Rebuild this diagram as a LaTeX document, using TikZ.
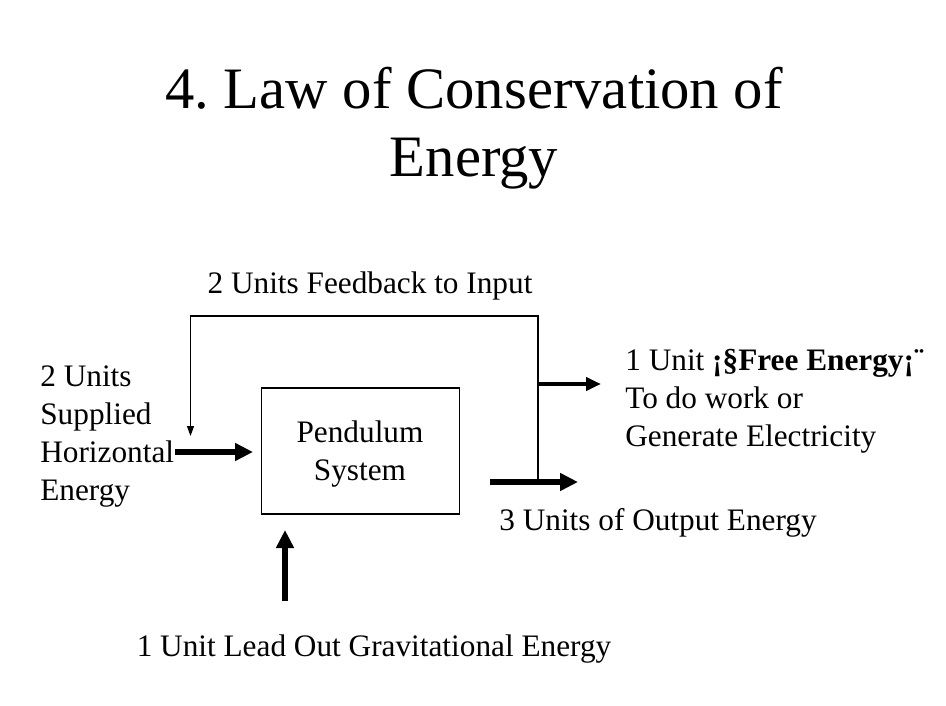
\documentclass[tikz,border=0pt]{standalone}
\usepackage{fontspec}
\setmainfont{Liberation Serif}
\usetikzlibrary{arrows.meta}
\frenchspacing

\begin{document}
\begin{tikzpicture}[x=0.02cm,y=-0.02cm,
       txt/.style={font=\fontsize{17.8}{21.6}\selectfont,inner sep=0pt,align=left},
       ttl/.style={font=\fontsize{33.4}{38.7}\selectfont,inner sep=0pt,align=center},
       fat/.style={-{Triangle[length=0.36cm,width=0.34cm]},line width=3.4pt},
       mid/.style={-{Triangle[length=0.3cm,width=0.26cm]},line width=2.4pt},
       thin/.style={-{Triangle[length=0.2cm,width=0.14cm]},line width=0.6pt}]
      \useasboundingbox (0,0) rectangle (946,706);
      % title
      \node[ttl,anchor=base] (T) at (474,176) {4. Law of Conservation of\\Energy};
      % the system
      \node[draw,line width=0.6pt,minimum width=3.95cm,minimum height=2.52cm,inner sep=0pt] (P) at (360.5,451) {};
      \node[txt,align=center,anchor=base] (Pt) at (360,480) {Pendulum\\System};
      % labels
      \node[txt,anchor=base] (FB) at (370,293) {2 Units Feedback to Input};
      \node[txt,anchor=base west] (IN) at (40,500) {2 Units\\Supplied\\Horizontal\\Energy};
      \node[txt,anchor=base west] (FE) at (625,446) {1 Unit \textbf{¡§Free Energy¡¨}\\To do work or\\Generate Electricity};
      \node[txt,anchor=base west] (OUT) at (499,530) {3 Units of Output Energy};
      \node[txt,anchor=base] (GR) at (374,656) {1 Unit Lead Out Gravitational Energy};
      % arrow ends
      \coordinate (inA) at (175,452);
      \coordinate (inB) at (253,452);
      \coordinate (outA) at (490,482);
      \coordinate (outB) at (578,482);
      \coordinate (frA) at (538,384);
      \coordinate (frB) at (601,384);
      \coordinate (grA) at (285,601);
      \coordinate (grB) at (285,530);
      \coordinate (fbR) at (538,482);
      \coordinate (fbL) at (190.5,436);
      \draw[fat] (inA) -- (inB);
      \draw[fat] (outA) -- (outB);
      \draw[mid] (frA) -- (frB);
      \draw[fat] (grA) -- (grB);
      \draw[thin] (fbR) |- (190.5,316) -- (fbL);
    \end{tikzpicture}
\end{document}
